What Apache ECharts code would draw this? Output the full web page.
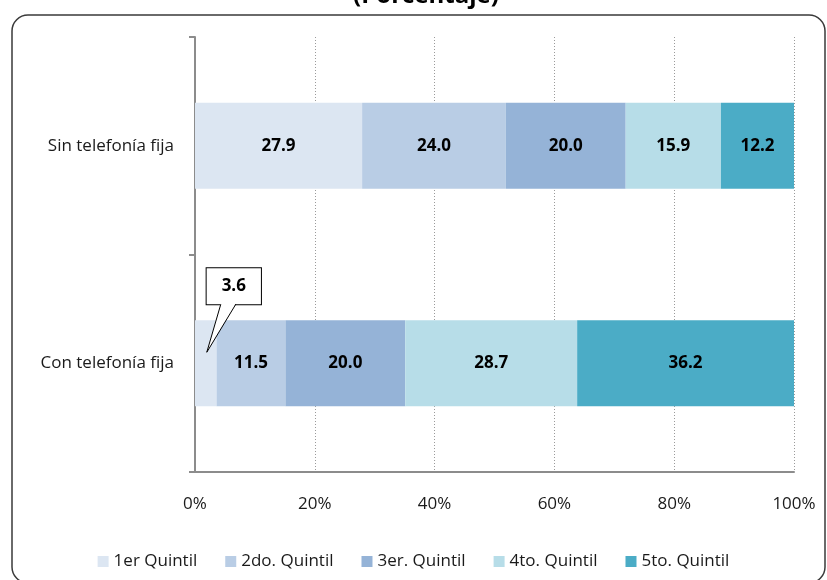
<!DOCTYPE html>
<html>
<head>
<meta charset="utf-8">
<style>
html,body{margin:0;padding:0;background:#fff;}
#chart{width:827px;height:580px;}
</style>
<script src="https://cdn.jsdelivr.net/npm/echarts@6/dist/echarts.min.js"></script>
</head>
<body>
<div id="chart"></div>
<script type="text/javascript">
    var categories = ['Sin telefonía fija', 'Con telefonía fija'];
    var quintiles = ['1er Quintil', '2do. Quintil', '3er. Quintil', '4to. Quintil', '5to. Quintil'];
    var q1 = [27.9, 3.6];
    var q2 = [24.0, 11.5];
    var q3 = [20.0, 20.0];
    var q4 = [15.9, 28.7];
    var q5 = [12.2, 36.2];
    var xTicks = [0, 20, 40, 60, 80, 100];
    var colors = ['#dce6f2', '#b9cde5', '#95b3d7', '#b7dde8', '#4bacc6'];

    var font = '"Open Sans", Lato, sans-serif';
    var values = [q1, q2, q3, q4, q5];
    var series = [];
    for (var i = 0; i < quintiles.length; i++) {
        series.push({
            name: quintiles[i],
            type: 'bar',
            stack: 'total',
            barWidth: 86,
            data: values[i].slice(),
            itemStyle: {color: colors[i]},
            label: {
                show: true,
                position: 'inside',
                color: '#000',
                fontFamily: font,
                fontWeight: 'bold',
                fontSize: 17,
                formatter: function (p) { return p.value.toFixed(1); }
            }
        });
    }
    // el 3.6 va en un recuadro fuera de la barra
    series[0].data[1] = {
        value: q1[1],
        label: {backgroundColor: '#fff', borderColor: '#000', borderWidth: 1, padding: [10, 15, 9, 15]}
    };
    series[0].labelLayout = function (p) {
        if (p.dataIndex === 1) return {dx: 28, dy: -77};
        return {};
    };

    var chart = echarts.init(document.getElementById('chart'));
    chart.setOption({
        animation: false,
        title: {
            text: '(Porcentaje)',
            left: 421,
            textAlign: 'center',
            top: -21,
            textStyle: {fontFamily: font, fontWeight: 'bold', fontSize: 24, color: '#000'}
        },
        color: colors,
        graphic: [{
            type: 'rect',
            shape: {x: 12, y: 15, width: 813, height: 568, r: 16},
            style: {fill: 'none', stroke: '#3a3a3a', lineWidth: 1.5},
            z: -1
        }],
        grid: {left: 195, right: 33, top: 37, bottom: 108},
        legend: {
            data: quintiles,
            top: 548,
            left: 'center',
            itemWidth: 11,
            itemHeight: 11,
            itemGap: 28,
            icon: 'rect',
            textStyle: {fontFamily: font, fontSize: 17, color: '#1a1a1a'}
        },
        xAxis: {
            type: 'value',
            min: xTicks[0],
            max: xTicks[xTicks.length - 1],
            interval: 20,
            axisLine: {show: true, lineStyle: {color: '#8c8c8c', width: 2}},
            axisTick: {show: false},
            splitLine: {show: true, lineStyle: {color: '#9a9a9a', type: [1, 2]}},
            axisLabel: {formatter: '{value}%', margin: 24, fontFamily: font, fontSize: 17, color: '#1a1a1a'}
        },
        yAxis: {
            type: 'category',
            data: categories,
            inverse: true,
            axisLine: {lineStyle: {color: '#8c8c8c', width: 2}},
            axisTick: {show: true, length: 6, lineStyle: {color: '#8c8c8c', width: 2}},
            axisLabel: {margin: 21, fontFamily: font, fontSize: 17, color: '#1a1a1a'}
        },
        series: series
    });

    // pico del recuadro, apuntando al segmento de 3.6
    var c = chart.convertToPixel({xAxisIndex: 0, yAxisIndex: 0}, [q1[1] / 2, categories[1]]);
    var baseY = c[1] - 59;
    chart.setOption({
        graphic: [{
            type: 'rect',
            shape: {x: 12, y: 15, width: 813, height: 568, r: 16},
            style: {fill: 'none', stroke: '#3a3a3a', lineWidth: 1.5},
            z: -1
        }, {
            type: 'polygon',
            shape: {points: [[c[0] + 15, baseY - 1], [c[0] + 30, baseY - 1], [c[0] + 1, c[1] - 11]]},
            style: {fill: '#fff', stroke: null},
            z: 100
        }, {
            type: 'polyline',
            shape: {points: [[c[0] + 15, baseY], [c[0] + 1, c[1] - 11], [c[0] + 30, baseY]]},
            style: {fill: null, stroke: '#000', lineWidth: 1},
            z: 101
        }]
    });
</script>
</body>
</html>
